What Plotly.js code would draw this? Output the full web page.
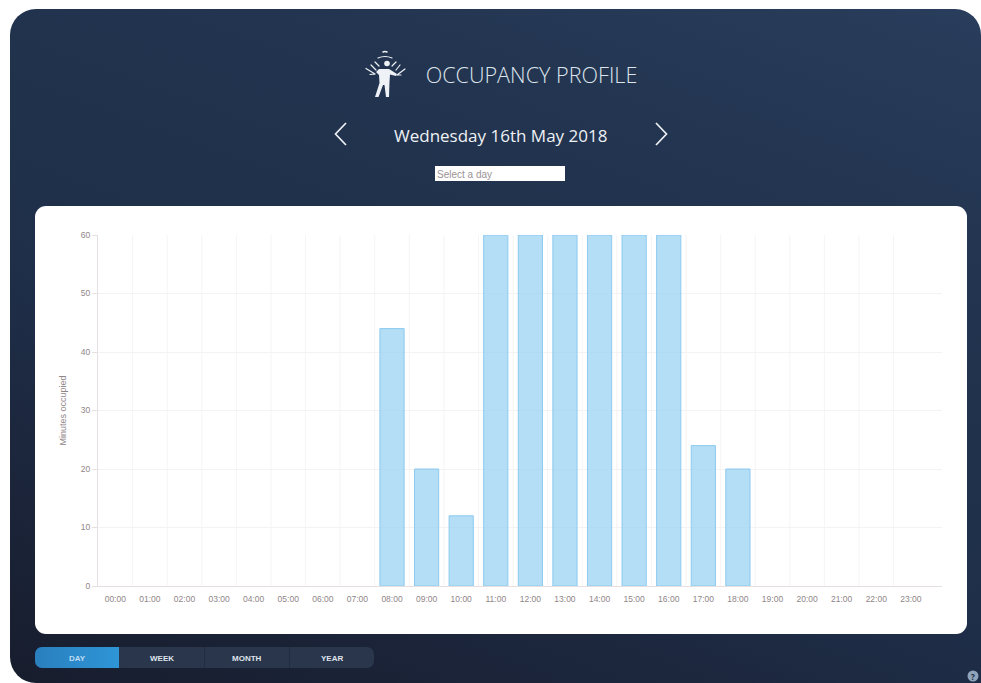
<!DOCTYPE html>
<html>
<head>
<meta charset="utf-8">
<script src="https://cdn.plot.ly/plotly-3.0.1.min.js"></script>
<style>
html,body{margin:0;padding:0;background:#fff;width:981px;height:683px;overflow:hidden}
#panel{position:absolute;left:10px;top:9px;width:971px;height:674px;border-radius:26px 26px 0 26px;
background:linear-gradient(200deg,#293d5c 0%,#22344f 26%,#1f2f4a 58%,#1b2439 82%,#171d2d 100%)}
#card{position:absolute;left:35px;top:206px;width:932px;height:428px;background:#fff;border-radius:11px}
#tabs{position:absolute;left:35px;top:647px;width:339px;height:21px;border-radius:7px;background:#2a364c;overflow:hidden}
#tabs div{position:absolute;top:0;height:21px}
#day{left:0;width:84px;background:linear-gradient(90deg,#2a7fbe,#2e95d6)}
.sep{width:1px;background:#212c40}
#input{position:absolute;left:435px;top:166px;width:130px;height:15px;background:#fff}
svg.deco{position:absolute;left:0;top:0}
#chart{position:absolute;left:0;top:0;width:981px;height:683px}
</style>
</head>
<body>
<div id="panel"></div>
<div id="card"></div>
<div id="tabs"><div id="day"></div><div class="sep" style="left:169px"></div><div class="sep" style="left:254px"></div></div>
<div id="input"></div>
<svg class="deco" width="981" height="683" fill="none" stroke="#eef1f5">
  <path d="M346 123 L335.5 134 L346 145" stroke-width="1.7"/>
  <path d="M656 123 L666.5 134 L656 145" stroke-width="1.7"/>
  <g stroke-width="1.2" stroke-linecap="round">
    <path d="M383 52 Q385 51 387 52" stroke-width="1.6"/>
    <path d="M378 58 Q385 55 392 58"/>
    <path d="M375 62 L379 66"/>
    <path d="M396 62 L392 66"/>
    <path d="M371 65 L376 70"/>
    <path d="M400 65 L396 70"/>
    <path d="M366 68.5 L375 74 M375 74 L370 74.5"/>
    <path d="M405 69 L397 75 M397 75 L401 75"/>
  </g>
  <circle cx="387" cy="63.5" r="2.8" fill="#eef1f5" stroke="none"/>
  <path d="M379 69 L389 69 L397 74 L396 76 L390 74.5 L389.5 82 L389 97 L386 97 L384.5 85 L383 85 L378.5 97 L375 97 L379.5 83 L379 75 L376 72 Z" fill="#eef1f5" stroke="none"/>
</svg>
<div id="chart"></div>
<script>
var categories = ["00:00","01:00","02:00","03:00","04:00","05:00","06:00","07:00","08:00","09:00","10:00","11:00","12:00","13:00","14:00","15:00","16:00","17:00","18:00","19:00","20:00","21:00","22:00","23:00"];
var minutesOccupied = [0,0,0,0,0,0,0,0,44,20,12,60,60,60,60,60,60,24,20,0,0,0,0,0];
var yTicks = [0,10,20,30,40,50,60];
var yAxisTitle = "Minutes occupied";
var chartTitle = "OCCUPANCY PROFILE";
var dateLabel = "Wednesday 16th May 2018";
var pickerPlaceholder = "Select a day";
var tabLabels = ["DAY","WEEK","MONTH","YEAR"];
var tabCentres = [77,162,247,332];

var W = 981, H = 683;
var L = 98, R = 942, T = 235, B = 586;
function px(x){return (x-L)/(R-L);}
function py(y){return (B-y)/(B-T);}

var anns = [
 {text:dateLabel,x:px(500),y:py(135),xref:'paper',yref:'paper',showarrow:false,xanchor:'center',yanchor:'middle',font:{family:'Open Sans',size:17,weight:500,color:'#eef1f5'}},
 {text:pickerPlaceholder,x:px(434.5),y:py(174),xref:'paper',yref:'paper',showarrow:false,xanchor:'left',yanchor:'middle',font:{family:'Liberation Sans',size:10,color:'#9b9294'}},
 {text:'?',x:px(973),y:py(676),xref:'paper',yref:'paper',showarrow:false,xanchor:'center',yanchor:'middle',font:{family:'Open Sans',size:8,weight:700,color:'#1c2a40'}}
];
tabLabels.forEach(function(t,i){
 anns.push({text:t,x:px(tabCentres[i]),y:py(658),xref:'paper',yref:'paper',showarrow:false,xanchor:'center',yanchor:'middle',
   font:{family:'Liberation Sans',size:8,weight:700,color:i===0?'#bcdcf2':'#dfe4ec'}});
});

// vertical grid lines sit on category boundaries, drawn through the axis scale
var shapes = [];
for(var k=1;k<=23;k++){
 shapes.push({type:'line',xref:'x',yref:'paper',x0:k-0.5,x1:k-0.5,y0:0,y1:1,line:{color:'#f6f4f4',width:1},layer:'below'});
}
shapes.push({type:'circle',xref:'paper',yref:'paper',x0:px(967.5),x1:px(978.5),y0:py(681.5),y1:py(670.5),fillcolor:'#8fa3ba',line:{width:0}});

Plotly.newPlot('chart',[{
  type:'bar',x:categories,y:minutesOccupied,width:0.7,
  marker:{color:'rgba(151,208,243,0.72)',line:{color:'#8ccaf0',width:minutesOccupied.map(function(v){return v>0?1:0;})}},
  hoverinfo:'x+y'
}],{
  width:W,height:H,autosize:false,
  paper_bgcolor:'rgba(0,0,0,0)',plot_bgcolor:'rgba(0,0,0,0)',
  margin:{l:L,r:W-R,t:T,b:H-B,pad:0},
  showlegend:false,
  title:{text:chartTitle,x:531.5/W,xanchor:'center',y:1-75/H,yanchor:'middle',font:{family:'Open Sans',size:21.6,weight:300,color:'#dfe5ec'}},
  xaxis:{type:'category',categories:categories,range:[-0.5,23.9],showgrid:false,ticks:'',ticklabelstandoff:5,
    tickfont:{family:'Liberation Sans',size:8.5,color:'#8f8688'},ticklen:0,showline:true,linecolor:'#e6dfdf',linewidth:1,zeroline:false,fixedrange:true},
  yaxis:{range:[0,60],tickvals:yTicks,ticktext:yTicks.map(String),showgrid:true,gridcolor:'#f5f2f2',gridwidth:1,
    ticks:'outside',ticklen:5,tickcolor:'#e6dfdf',tickwidth:1,tickfont:{family:'Liberation Sans',size:8.5,color:'#8f8688'},
    showline:true,linecolor:'#e6dfdf',linewidth:1,zeroline:false,fixedrange:true,
    title:{text:yAxisTitle,standoff:12,font:{family:'Liberation Sans',size:9,color:'#8f8688'}}},
  annotations:anns,shapes:shapes
},{staticPlot:true,displayModeBar:false});
</script>
</body>
</html>
